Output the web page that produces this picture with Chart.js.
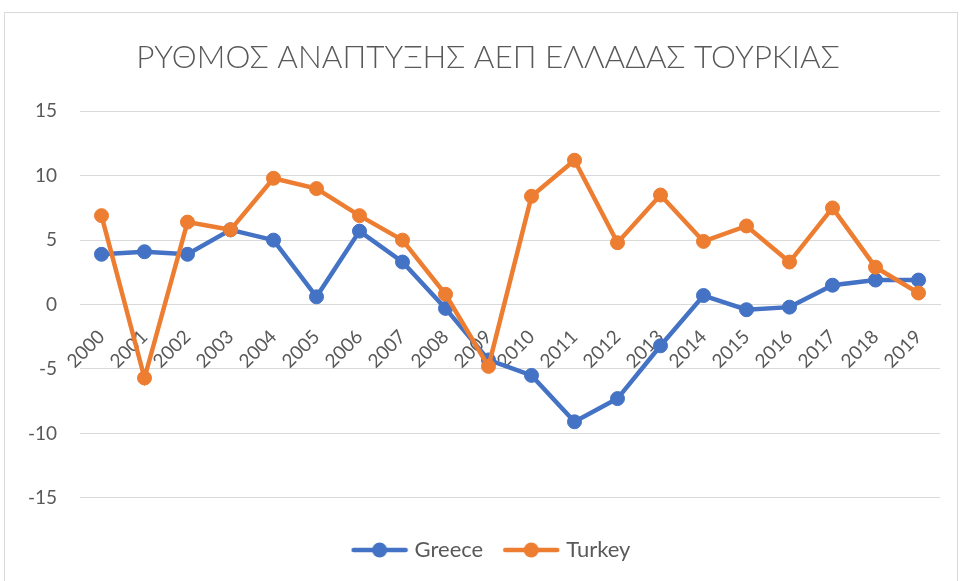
<!DOCTYPE html>
<html>
<head>
<meta charset="utf-8">
<script src="https://cdn.jsdelivr.net/npm/chart.js@4"></script>
<style>
  body { margin: 0; background: #fff; }
  #wrap { position: relative; width: 960px; height: 581px; }
</style>
</head>
<body>
<div id="wrap"><canvas id="myChart"></canvas></div>
<script>
// data
const years = ['2000','2001','2002','2003','2004','2005','2006','2007','2008','2009',
               '2010','2011','2012','2013','2014','2015','2016','2017','2018','2019']
const greece = [3.9, 4.1, 3.9, 5.8, 5.0, 0.6, 5.7, 3.3, -0.3, -4.3,
                -5.5, -9.1, -7.3, -3.2, 0.7, -0.4, -0.2, 1.5, 1.9, 1.9]
const turkey = [6.9, -5.7, 6.4, 5.8, 9.8, 9.0, 6.9, 5.0, 0.8, -4.8,
                8.4, 11.2, 4.8, 8.5, 4.9, 6.1, 3.3, 7.5, 2.9, 0.9]
const yTicks = [-15, -10, -5, 0, 5, 10, 15]

const BLUE = '#4472C4'
const ORANGE = '#ED7D31'
const GREY = '#595959'
const FONT = 'Lato, "Open Sans", sans-serif'

// legend marker: line with a dot
function legendMark(color) {
    const c = document.createElement('canvas')
    c.width = 58
    c.height = 18
    const ctx = c.getContext('2d')
    ctx.strokeStyle = color
    ctx.lineWidth = 4.5
    ctx.lineCap = 'round'
    ctx.beginPath()
    ctx.moveTo(3, 9)
    ctx.lineTo(55, 9)
    ctx.stroke()
    ctx.fillStyle = color
    ctx.beginPath()
    ctx.arc(29, 9, 7.5, 0, Math.PI * 2)
    ctx.fill()
    return c
}
const marks = [legendMark(BLUE), legendMark(ORANGE)]

const frame = {
    id: 'frame',
    beforeDraw(chart) {
        const ctx = chart.ctx
        ctx.save()
        ctx.fillStyle = '#fff'
        ctx.fillRect(0, 0, chart.width, chart.height)
        ctx.strokeStyle = '#d9d9d9'
        ctx.lineWidth = 1
        ctx.strokeRect(4.5, 12.5, 953, 600)
        ctx.restore()
    },
    // the original frame is wider than the picture, so title and legend sit right of centre
    afterLayout(chart) {
        chart.titleBlock.left = 36
        chart.legend.left = 46
    }
}

const data = {
    labels: years,
    datasets: [{
        label: 'Greece',
        data: greece,
        borderColor: BLUE,
        backgroundColor: BLUE,
        borderWidth: 4.5,
        pointRadius: 7,
        pointBorderWidth: 1,
        order: 1
    }, {
        label: 'Turkey',
        data: turkey,
        borderColor: ORANGE,
        backgroundColor: ORANGE,
        borderWidth: 4.5,
        pointRadius: 7,
        pointBorderWidth: 1,
        order: 0
    }]
}

const config = {
    type: 'line',
    data,
    plugins: [frame],
    options: {
        responsive: true,
        maintainAspectRatio: false,
        animation: false,
        layout: { padding: { left: 0, right: 20, top: 0, bottom: 10 } },
        scales: {
            x: {
                position: { y: 0 },
                offset: true,
                grid: { display: false, drawTicks: false },
                border: { display: true, color: '#d9d9d9', width: 1 },
                ticks: {
                    autoSkip: false,
                    minRotation: 45,
                    maxRotation: 45,
                    padding: 21,
                    color: GREY,
                    font: { family: FONT, size: 19 }
                }
            },
            y: {
                min: -15,
                max: 15,
                afterBuildTicks: (scale) => { scale.ticks = yTicks.map(v => ({ value: v })) },
                grid: { color: '#d9d9d9', drawTicks: false },
                border: { display: false },
                ticks: {
                    padding: 23,
                    color: GREY,
                    font: { family: FONT, size: 19 }
                },
                afterFit: (scale) => { scale.width = 80 }
            }
        },
        plugins: {
            title: {
                display: true,
                text: 'ΡΥΘΜΟΣ ΑΝΑΠΤΥΞΗΣ ΑΕΠ ΕΛΛΑΔΑΣ ΤΟΥΡΚΙΑΣ',
                color: GREY,
                font: { family: FONT, size: 31.5, weight: '300' },
                padding: { top: 39, bottom: 34.5 }
            },
            legend: {
                position: 'bottom',
                title: {
                    display: true,
                    text: ' ',
                    font: { size: 1 },
                    padding: { top: 0, bottom: 16 }
                },
                labels: {
                    usePointStyle: true,
                    pointStyleWidth: 48,
                    padding: 24,
                    color: GREY,
                    font: { family: FONT, size: 22 },
                    generateLabels: (chart) => {
                        return chart.data.datasets.map((ds, i) => ({
                            text: ds.label,
                            datasetIndex: i,
                            pointStyle: marks[i],
                            fontColor: GREY,
                            fillStyle: ds.backgroundColor,
                            strokeStyle: ds.borderColor,
                            lineWidth: 0,
                            hidden: !chart.isDatasetVisible(i)
                        }))
                    }
                }
            },
            tooltip: { enabled: false }
        }
    }
}

const myChart = new Chart(document.getElementById('myChart'), config)
</script>
</body>
</html>
